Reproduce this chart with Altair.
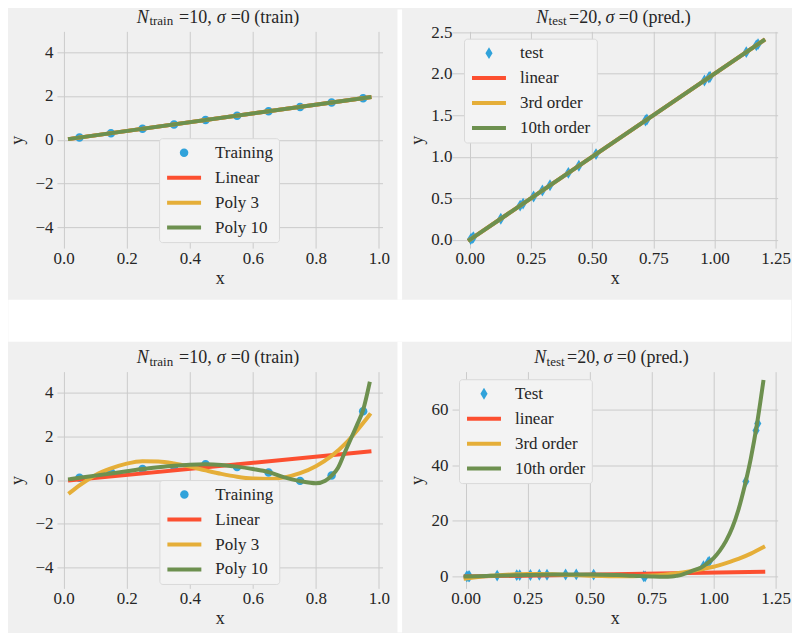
import altair as alt
import pandas as pd

# ---------------- data ----------------
train_x = [0.05, 0.15, 0.25, 0.35, 0.45, 0.55, 0.65, 0.75, 0.85, 0.95]
train_y_top = [0.1, 0.3, 0.5, 0.7, 0.9, 1.1, 1.3, 1.5, 1.7, 1.9]
train_y_bot = [0.1, 0.35, 0.5, 0.63, 0.72, 0.59, 0.34, -0.04, 0.2, 3.14]

test_x = [0.004, 0.010, 0.015, 0.127, 0.206, 0.218, 0.261, 0.297, 0.328, 0.403,
          0.446, 0.516, 0.718, 0.724, 0.959, 0.977, 0.982, 1.130, 1.171, 1.178]
test_y_top = [0.008, 0.02, 0.03, 0.254, 0.412, 0.436, 0.522, 0.594, 0.656, 0.806,
              0.892, 1.032, 1.436, 1.448, 1.918, 1.954, 1.964, 2.26, 2.342, 2.356]
test_y_bot = [0.03, 0.05, 0.07, 0.3, 0.45, 0.47, 0.52, 0.58, 0.62, 0.7,
              0.72, 0.66, 0.05, 0.03, 3.7, 4.9, 5.3, 34.2, 52.5, 55.0]

# fits, top row (sigma = 0, linear truth): all three fits coincide
fit_top_x = [0.02, 0.97]
fit_top_lin = [0.04, 1.94]
fit_top_p3 = [0.04, 1.94]
fit_top_p10 = [0.04, 1.94]
pred_top_x = [0.0, 1.2]
pred_top_lin = [0.0, 2.4]
pred_top_p3 = [0.0, 2.4]
pred_top_p10 = [0.0, 2.4]

# fits, bottom row
fit_bot_lin_x = [0.02, 0.97]
fit_bot_lin_y = [-0.02, 1.30]
fit_bot_p3_x = [0.02, 0.05, 0.1, 0.15, 0.2, 0.25, 0.3, 0.35, 0.4, 0.45, 0.5,
                0.55, 0.6, 0.65, 0.7, 0.75, 0.8, 0.85, 0.9, 0.95, 0.97]
fit_bot_p3_y = [-0.58, -0.25, 0.22, 0.53, 0.75, 0.86, 0.85, 0.76, 0.61, 0.44, 0.28,
                0.15, 0.07, 0.05, 0.12, 0.31, 0.63, 1.1, 1.75, 2.6, 2.97]
fit_bot_p10_x = [0.02, 0.05, 0.1, 0.15, 0.2, 0.25, 0.3, 0.35, 0.4, 0.45, 0.5, 0.55,
                 0.6, 0.65, 0.7, 0.75, 0.8, 0.83, 0.85, 0.87, 0.89, 0.91, 0.93, 0.95, 0.97]
fit_bot_p10_y = [0.04, 0.1, 0.2, 0.3, 0.4, 0.5, 0.58, 0.65, 0.7, 0.72, 0.69, 0.61,
                 0.5, 0.36, 0.12, -0.05, -0.15, -0.03, 0.2, 0.55, 1.2, 1.85, 2.5, 3.2, 4.4]

pred_bot_lin_x = [0.0, 1.2]
pred_bot_lin_y = [-0.05, 1.65]
pred_bot_p3_x = [0.0, 0.05, 0.1, 0.15, 0.2, 0.25, 0.3, 0.35, 0.4, 0.45, 0.5, 0.55, 0.6,
                 0.65, 0.7, 0.75, 0.8, 0.85, 0.9, 0.95, 1.0, 1.05, 1.1, 1.15, 1.2]
pred_bot_p3_y = [-0.8, -0.25, 0.22, 0.53, 0.75, 0.86, 0.85, 0.76, 0.61, 0.44, 0.28, 0.15, 0.07,
                 0.05, 0.12, 0.31, 0.63, 1.1, 1.75, 2.6, 3.5, 4.8, 6.3, 8.2, 10.5]
pred_bot_p10_x = [0.0, 0.05, 0.1, 0.15, 0.2, 0.25, 0.3, 0.35, 0.4, 0.45, 0.5, 0.55, 0.6,
                  0.65, 0.7, 0.75, 0.8, 0.83, 0.85, 0.87, 0.89, 0.91, 0.93, 0.95, 0.97,
                  1.0, 1.025, 1.05, 1.075, 1.1, 1.125, 1.15, 1.175, 1.2]
pred_bot_p10_y = [-0.02, 0.1, 0.2, 0.3, 0.4, 0.5, 0.58, 0.65, 0.7, 0.72, 0.69, 0.61, 0.5,
                  0.36, 0.12, -0.05, -0.15, -0.03, 0.2, 0.55, 1.2, 1.85, 2.5, 3.2, 4.4,
                  6.6, 9.3, 12.8, 17.5, 24.0, 32.5, 42.5, 55.0, 70.0]

labels_train = ["Training", "Linear", "Poly 3", "Poly 10"]
labels_test_top = ["test", "linear", "3rd order", "10th order"]
labels_test_bot = ["Test", "linear", "3rd order", "10th order"]

# ---------------- style ----------------
BLUE, RED, YELLOW, GREEN = "#30a2da", "#fc4f30", "#e5ae38", "#6d904f"
BG = "#f0f0f0"
FONT = "Liberation Serif"
TXT = "#262626"
H = 217

CIRCLE = "M0.25,0A0.25,0.25,0,1,1,-0.25,0A0.25,0.25,0,1,1,0.25,0Z"
DIAMOND = "M0,-0.35L0.21,0L0,0.35L-0.21,0Z"
STROKE = "M-1,0L1,0"

one = pd.DataFrame({"k": [0]})


def panel(pts_x, pts_y, labels, marker, lines, xdom, ydom, xvals, yvals,
          xfmt, yfmt, width, legxy, pieces, ytitle_x, ylabpad, gaps):
    pdf = pd.DataFrame({"x": pts_x, "y": pts_y, "s": labels[0]})
    ldf = pd.concat([pd.DataFrame({"x": lx, "y": ly, "s": name})
                     for name, (lx, ly) in zip(labels[1:], lines)], ignore_index=True)
    leg = alt.Legend(orient="none", legendX=legxy[0], legendY=legxy[1], title=None,
                     padding=6, rowPadding=7, clipHeight=17, labelOffset=12,
                     labelFont=FONT, labelFontSize=17, labelColor=TXT, labelLimit=0,
                     fillColor="#f3f3f3", strokeColor="#d9d9d9", cornerRadius=3,
                     symbolStrokeWidth=4, symbolSize=1156, symbolOpacity=1)
    X = alt.X("x:Q", scale=alt.Scale(domain=xdom, nice=False, zero=False),
              axis=alt.Axis(values=xvals, format=xfmt, title="x", titleX=width / 2,
                            titleY=35, titleAngle=0, titleAlign="center",
                            titleBaseline="alphabetic", labelPadding=2))
    Y = alt.Y("y:Q", scale=alt.Scale(domain=ydom, nice=False, zero=False),
              axis=alt.Axis(values=yvals, format=yfmt, title="y", titleX=ytitle_x,
                            titleY=H / 2, titleAngle=270, titleAlign="center",
                            titleBaseline="alphabetic", labelPadding=ylabpad))
    pts = alt.Chart(pdf).mark_point(filled=True, size=1156, opacity=1, strokeWidth=0).encode(
        x=X, y=Y,
        fill=alt.Fill("s:N", scale=alt.Scale(domain=labels, range=[BLUE, RED, YELLOW, GREEN]), legend=leg),
        shape=alt.Shape("s:N", scale=alt.Scale(domain=labels, range=[marker, STROKE, STROKE, STROKE]), legend=leg),
    )
    lns = alt.Chart(ldf).mark_line(strokeWidth=4, interpolate="monotone", strokeCap="square").encode(
        x=X, y=Y,
        stroke=alt.Stroke("s:N", scale=alt.Scale(domain=labels, range=["transparent", RED, YELLOW, GREEN]), legend=leg),
    )
    layers = []
    for (gx, gx2, gy, gy2) in gaps:
        layers.append(alt.Chart(one).mark_rect(color="white").encode(
            x=alt.value(gx), x2=alt.value(gx2), y=alt.value(gy), y2=alt.value(gy2)))
    layers += [pts, lns]
    for (txt, px, py, fs, ital) in pieces:
        kw = dict(text=txt, font=FONT, fontSize=fs, align="left", baseline="alphabetic", color=TXT)
        if ital:
            kw["fontStyle"] = "italic"
        layers.append(alt.Chart(one).mark_text(**kw).encode(x=alt.value(px), y=alt.value(py)))
    return alt.layer(*layers).properties(width=width, height=H)


W_L, W_R = 326, 326

title_train = [("N", 80, -8.3, 18, True), ("train", 92.6, -6, 13, False),
               ("=10,", 122.3, -8.3, 18, False), ("σ", 160, -8.3, 18, True),
               ("=0 (train)", 174, -8.3, 18, False)]
title_test_tr = [("N", 84.4, -8.3, 18, True), ("test", 96.7, -6, 13, False),
                 ("=20,", 117.2, -8.3, 18, False), ("σ", 153.7, -8.3, 18, True),
                 ("=0 (pred.)", 167, -8.3, 18, False)]
title_test_br = [("N", 82.4, -8.3, 18, True), ("test", 94.7, -6, 13, False),
                 ("=20,", 115.2, -8.3, 18, False), ("σ", 151.7, -8.3, 18, True),
                 ("=0 (pred.)", 165, -8.3, 18, False)]

tl = panel(train_x, train_y_top, labels_train, CIRCLE,
           [(fit_top_x, fit_top_lin), (fit_top_x, fit_top_p3), (fit_top_x, fit_top_p10)],
           [-0.0215, 1.0115], [-4.95, 4.95], [0, 0.2, 0.4, 0.6, 0.8, 1.0], [-4, -2, 0, 2, 4],
           ".1f", "d", W_L, (102.3, 107), title_train, -34.2, 4,
           [(341, 345.6, -22, 268.7), (-48.7, 735.3, 268.7, 310.7)])
tr = panel(test_x, test_y_top, labels_test_top, DIAMOND,
           [(pred_top_x, pred_top_lin), (pred_top_x, pred_top_p3), (pred_top_x, pred_top_p10)],
           [-0.0723, 1.258], [-0.1, 2.51], [0, 0.25, 0.5, 0.75, 1.0, 1.25], [0, 0.5, 1.0, 1.5, 2.0, 2.5],
           ".2f", ".1f", W_R, (12, 7.3), title_test_tr, -29.8, 0, [])
bl = panel(train_x, train_y_bot, labels_train, CIRCLE,
           [(fit_bot_lin_x, fit_bot_lin_y), (fit_bot_p3_x, fit_bot_p3_y), (fit_bot_p10_x, fit_bot_p10_y)],
           [-0.0215, 1.0115], [-4.95, 4.95], [0, 0.2, 0.4, 0.6, 0.8, 1.0], [-4, -2, 0, 2, 4],
           ".1f", "d", W_L, (102.6, 108.6), title_train, -34.2, 4,
           [(341, 345.6, -30, 261.3)])
br = panel(test_x, test_y_bot, labels_test_bot, DIAMOND,
           [(pred_bot_lin_x, pred_bot_lin_y), (pred_bot_p3_x, pred_bot_p3_y), (pred_bot_p10_x, pred_bot_p10_y)],
           [-0.055, 1.258], [-4.3, 73.7], [0, 0.25, 0.5, 0.75, 1.0, 1.25], [0, 20, 40, 60],
           ".2f", "d", W_R, (7, 7.6), title_test_br, -29.8, 4, [])

RES = dict(x="independent", y="independent", fill="independent",
           stroke="independent", shape="independent")
LEGRES = dict(fill="independent", stroke="independent", shape="independent")

chart = alt.concat(tl, tr, bl, br, columns=2, spacing={"row": 123.7, "column": 69.6},
                   bounds="flush").resolve_scale(**RES).resolve_legend(**LEGRES)
chart = chart.properties(padding=0, background=BG).configure_view(stroke=None, fill=BG).configure_axis(
    grid=True, gridColor="#cbcbcb", gridWidth=1, domain=False, ticks=False,
    labelFont=FONT, labelFontSize=17, labelColor=TXT, labelFlush=False, labelOverlap=False,
    titleFont=FONT, titleFontSize=18, titleFontWeight="normal", titleColor=TXT,
)

chart.save("out.html", embed_options={"renderer": "svg", "actions": False})
